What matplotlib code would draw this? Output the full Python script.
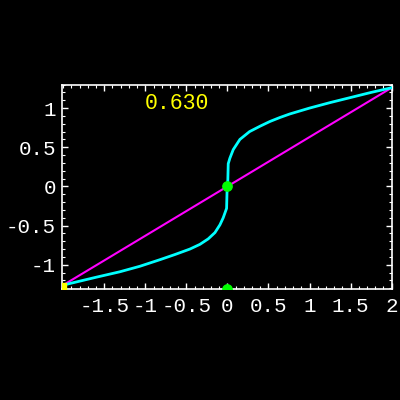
import matplotlib
matplotlib.use("Agg")
import matplotlib.pyplot as plt
from matplotlib.ticker import MultipleLocator, FixedLocator

# cyan curve points
curve_x = [-2, -1.6, -1.31, -1.067, -0.82, -0.64, -0.457, -0.335, -0.234, -0.152,
           -0.091, -0.051, -0.01, -0.005, 0, 0.005, 0.01, 0.03, 0.071, 0.152, 0.27,
           0.4, 0.52, 0.64, 0.76, 1.0, 1.25, 1.5, 1.75, 2]
curve_y = [-1.26, -1.16, -1.09, -1.02, -0.935, -0.87, -0.80, -0.74, -0.67, -0.59,
           -0.49, -0.40, -0.28, -0.08, 0, 0.08, 0.29, 0.36, 0.47, 0.60, 0.70,
           0.77, 0.83, 0.88, 0.925, 1.0, 1.07, 1.135, 1.2, 1.26]
# magenta secant line
line_x = [-2, 2]
line_y = [-1.26, 1.26]
# points
green_x = [0, 0]
green_y = [0, -1.31]
yellow_x = [-2.01]
yellow_y = [-1.29]
label_text = "0.630"
xticks = [-1.5, -1, -0.5, 0, 0.5, 1, 1.5, 2]
xticklabels = ["-1.5", "-1", "-0.5", "0", "0.5", "1", "1.5", "2"]
yticks = [-1, -0.5, 0, 0.5, 1]
yticklabels = ["-1", "-0.5", "0", "0.5", "1"]

fig = plt.figure(figsize=(4, 4), dpi=100, facecolor="black")
ax = fig.add_axes([0.154, 0.2775, 0.826, 0.511])
ax.set_facecolor("black")

ax.plot(curve_x, curve_y, color="#00ffff", lw=2.0, zorder=3,
        solid_joinstyle="round")
ax.plot(line_x, line_y, color="#ff00ff", lw=1.5, zorder=2)
ax.scatter(green_x, green_y, s=45, color="#00ff00", zorder=5, clip_on=True)
ax.scatter(yellow_x, yellow_y, s=40, marker="s", color="#ffff00", zorder=5, clip_on=True)
ax.text(-0.61, 1.06, label_text, color="#ffff00", fontsize=15.5,
        family="Liberation Mono", ha="center", va="center")

ax.set_xlim(-2.02, 2.005)
ax.set_ylim(-1.31, 1.30)

ax.xaxis.set_major_locator(FixedLocator(xticks))
ax.set_xticklabels(xticklabels)
ax.yaxis.set_major_locator(FixedLocator(yticks))
ax.set_yticklabels(yticklabels)
ax.xaxis.set_minor_locator(MultipleLocator(0.1))
ax.yaxis.set_minor_locator(MultipleLocator(0.1))

for s in ax.spines.values():
    s.set_color("white")
    s.set_linewidth(1.2)

ax.tick_params(which="both", direction="in", colors="white", top=True, right=True,
               labelsize=15)
ax.tick_params(which="major", length=4.5, width=1)
ax.tick_params(which="minor", length=2.5, width=0.8)
ax.tick_params(axis="x", pad=6)
ax.tick_params(axis="y", pad=4)
for lab in ax.get_xticklabels() + ax.get_yticklabels():
    lab.set_family("Liberation Mono")

fig.savefig("out.png", dpi=100, facecolor="black")
